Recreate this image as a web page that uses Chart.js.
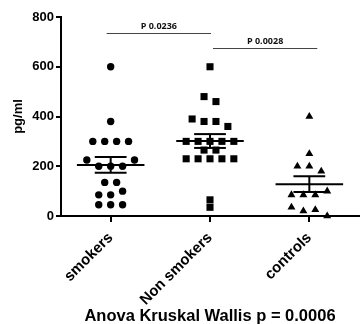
<!DOCTYPE html>
<html>
<head>
<meta charset="utf-8">
<script src="https://cdn.jsdelivr.net/npm/chart.js@4/dist/chart.umd.min.js"></script>
<style>
  html, body { margin: 0; padding: 0; background: #fff; }
</style>
</head>
<body>
<canvas id="c" width="364" height="324"></canvas>
<script>
'use strict';

// values (pg/ml)
const groups     = ['smokers', 'Non smokers', 'controls'];
const smokers    = [600, 380, 300, 300, 300, 300, 225, 225, 200, 200, 200, 135, 135, 100, 85, 85, 45, 45, 45];
const nonSmokers = [600, 480, 460, 390, 380, 380, 360, 300, 300, 300, 300, 300, 265, 265, 230, 230, 230, 230, 230, 65, 35];
const controls   = [400, 250, 200, 200, 180, 100, 85, 85, 85, 35, 25, 20, 0];
const yTicks     = [0, 200, 400, 600, 800];
const pLabels    = ['P 0.0236', 'P 0.0028'];
const footnote   = 'Anova Kruskal Wallis p = 0.0006';

const FONT  = "'Liberation Sans', Arial, sans-serif";
const STEP  = 0.12;   // horizontal spacing of dots in a row (category units)
const ROW   = 25;     // values closer than this share a row
const MEAN_W = 0.34;
const CAP_W  = 0.16;

// bracket spans/levels for the p-value annotations
const brackets = [
  { x0: -0.04, x1: 1.01, y: 735 },
  { x0: 1.03,  x1: 2.08, y: 675 },
];

// simple row-based swarm: near values are spread sideways around the centre
function swarm(values, center) {
  const sorted = values.slice().sort((a, b) => b - a);
  const rows = [];
  sorted.forEach(v => {
    const row = rows[rows.length - 1];
    if (row && row[row.length - 1] - v <= ROW) row.push(v);
    else rows.push([v]);
  });
  const pts = [];
  rows.forEach(row => {
    const mid = row.reduce((s, v) => s + v, 0) / row.length;
    const order = row.slice().sort((a, b) => Math.abs(a - mid) - Math.abs(b - mid));
    const slots = row.map((_, i) => (i - (row.length - 1) / 2) * STEP)
                     .sort((a, b) => Math.abs(a) - Math.abs(b));
    order.forEach((v, i) => pts.push({ x: center + slots[i], y: v }));
  });
  return pts;
}

function stats(values) {
  const n = values.length;
  const mean = values.reduce((s, v) => s + v, 0) / n;
  const sd = Math.sqrt(values.reduce((s, v) => s + (v - mean) ** 2, 0) / (n - 1));
  return { mean, sem: sd / Math.sqrt(n) };
}

const series = [
  { data: smokers,    style: 'circle',   r: 3.7 },
  { data: nonSmokers, style: 'rect',     r: 5 },
  { data: controls,   style: 'triangle', r: 4.6 },
];

const meanSem = {
  id: 'meanSem',
  afterDatasetsDraw(chart) {
    const { ctx, scales: { x, y } } = chart;
    ctx.save();
    ctx.strokeStyle = '#000';
    ctx.lineWidth = 2;
    series.forEach((s, i) => {
      const { mean, sem } = stats(s.data);
      const seg = (a, b, c, d) => {
        ctx.beginPath();
        ctx.moveTo(x.getPixelForValue(a), y.getPixelForValue(b));
        ctx.lineTo(x.getPixelForValue(c), y.getPixelForValue(d));
        ctx.stroke();
      };
      seg(i - MEAN_W, mean, i + MEAN_W, mean);
      seg(i, mean - sem, i, mean + sem);
      seg(i - CAP_W, mean + sem, i + CAP_W, mean + sem);
      seg(i - CAP_W, mean - sem, i + CAP_W, mean - sem);
    });

    // p-value brackets
    ctx.lineWidth = 1;
    ctx.strokeStyle = '#444';
    ctx.fillStyle = '#111';
    ctx.font = "bold 9px 'Open Sans', sans-serif";
    ctx.textAlign = 'center';
    ctx.textBaseline = 'bottom';
    brackets.forEach((b, i) => {
      const py = Math.round(y.getPixelForValue(b.y)) + 0.5;
      const px0 = x.getPixelForValue(b.x0), px1 = x.getPixelForValue(b.x1);
      ctx.beginPath();
      ctx.moveTo(px0, py);
      ctx.lineTo(px1, py);
      ctx.stroke();
      ctx.fillText(pLabels[i], (px0 + px1) / 2, py - 3);
    });
    ctx.restore();
  }
};

const axisFont = size => ({ family: FONT, size, weight: 'bold' });

new Chart(document.getElementById('c'), {
  type: 'scatter',
  data: {
    datasets: series.map((s, i) => ({
      data: swarm(s.data, i),
      pointStyle: s.style,
      pointRadius: s.r,
      pointHoverRadius: s.r,
      backgroundColor: '#000',
      borderColor: '#000',
      borderWidth: 0,
      clip: false,
    })),
  },
  options: {
    responsive: false,
    animation: false,
    layout: { padding: { top: 17, right: 1, left: 0, bottom: 0 } },
    plugins: { legend: { display: false }, tooltip: { enabled: false } },
    scales: {
      x: {
        type: 'linear',
        min: -0.5,
        max: 2.5,
        afterBuildTicks(s) { s.ticks = groups.map((_, i) => ({ value: i })); },
        afterFit(s) { s.height = 108; },
        border: { color: '#000', width: 2 },
        grid: { drawOnChartArea: false, color: '#000', lineWidth: 2, tickLength: 6 },
        ticks: {
          color: '#000', font: axisFont(15), minRotation: 45, maxRotation: 45, padding: 7,
          callback: v => groups[v],
        },
        title: {
          display: true, text: footnote, color: '#000', font: axisFont(16.5),
          padding: { top: 0, bottom: -2 },
        },
      },
      y: {
        min: 0,
        max: 800,
        afterBuildTicks(s) { s.ticks = yTicks.map(v => ({ value: v })); },
        afterFit(s) { s.width = 61; },
        border: { color: '#000', width: 2 },
        grid: { drawOnChartArea: false, color: '#000', lineWidth: 2, tickLength: 5 },
        ticks: { color: '#000', font: axisFont(13), padding: 2 },
        title: {
          display: true, text: 'pg/ml', color: '#000', font: axisFont(13),
          padding: { top: 11, bottom: 0 },
        },
      },
    },
  },
  plugins: [meanSem],
});
</script>
</body>
</html>
